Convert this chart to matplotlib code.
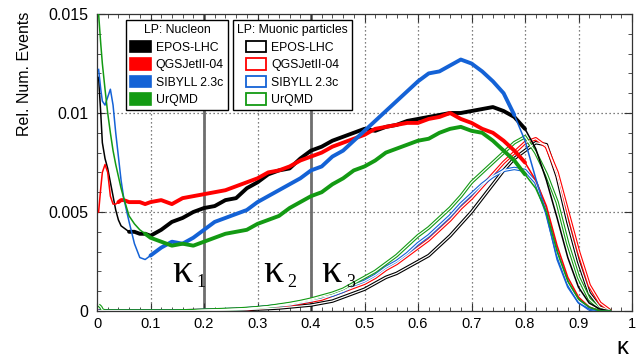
import numpy as np
import matplotlib
matplotlib.use("Agg")
import matplotlib.pyplot as plt
from matplotlib.patches import Patch
from matplotlib.ticker import MultipleLocator, FuncFormatter

plt.rcParams['font.family'] = ['Liberation Sans', 'DejaVu Sans']

# ---------------- data ----------------
kappa = [0.003, 0.007, 0.01, 0.015, 0.02, 0.025, 0.03, 0.035, 0.04, 0.045, 0.05,
         0.06, 0.07, 0.08, 0.09, 0.10,
         0.12, 0.14, 0.16, 0.18, 0.20, 0.22, 0.24, 0.26, 0.28, 0.30,
         0.32, 0.34, 0.36, 0.38, 0.40, 0.42, 0.44, 0.46, 0.48, 0.50,
         0.52, 0.54, 0.56, 0.58, 0.60, 0.62, 0.64, 0.66, 0.68, 0.70,
         0.72, 0.74, 0.76, 0.78, 0.80, 0.82, 0.84, 0.86, 0.88, 0.90,
         0.92, 0.94, 0.96]

models = ["EPOS-LHC", "QGSJetII-04", "SIBYLL 2.3c", "UrQMD"]

nucleon_epos = [0.0118, 0.0100, 0.0085, 0.0077, 0.0072, 0.0065, 0.0058, 0.0051, 0.0046, 0.0043, 0.0042,
                0.0040, 0.0040, 0.0039, 0.0039, 0.0038,
                0.0041, 0.0045, 0.0047, 0.0050, 0.0052, 0.0053, 0.0056, 0.0057, 0.0062, 0.0065,
                0.0069, 0.0071, 0.0072, 0.0077, 0.0081, 0.0083, 0.0086, 0.0088, 0.0090, 0.0092,
                0.0091, 0.0093, 0.0094, 0.0096, 0.0097, 0.0098, 0.0099, 0.0100, 0.0100, 0.0101,
                0.0102, 0.0103, 0.0101, 0.0098, 0.0092, 0.0082, 0.0066, 0.0047, 0.0027, 0.0012,
                0.0004, 0.0001, 0.0]
nucleon_qgsjet = [0.0050, 0.0062, 0.0070, 0.0074, 0.0070, 0.0058, 0.0054, 0.0054, 0.0055, 0.0056, 0.0056,
                  0.0055, 0.0055, 0.0055, 0.0054, 0.0055,
                  0.0056, 0.0054, 0.0057, 0.0058, 0.0059, 0.0060, 0.0061, 0.0063, 0.0065, 0.0067,
                  0.0070, 0.0071, 0.0073, 0.0076, 0.0078, 0.0080, 0.0083, 0.0085, 0.0087, 0.0089,
                  0.0092, 0.0093, 0.0094, 0.0095, 0.0095, 0.0097, 0.0098, 0.0100, 0.0097, 0.0095,
                  0.0092, 0.0090, 0.0086, 0.0081, 0.0075, 0.0066, 0.0053, 0.0033, 0.0017, 0.0007,
                  0.0002, 0.0, 0.0]
nucleon_sibyll = [0.0122, 0.0112, 0.0106, 0.0104, 0.0108, 0.0112, 0.0104, 0.0090, 0.0078, 0.0066, 0.0057,
                  0.0045, 0.0034, 0.0027, 0.0026, 0.0028,
                  0.0032, 0.0035, 0.0034, 0.0037, 0.0041, 0.0045, 0.0047, 0.0049, 0.0051, 0.0055,
                  0.0058, 0.0061, 0.0064, 0.0067, 0.0071, 0.0073, 0.0078, 0.0081, 0.0086, 0.0091,
                  0.0096, 0.0101, 0.0106, 0.0111, 0.0116, 0.0120, 0.0121, 0.0124, 0.0127, 0.0125,
                  0.0121, 0.0116, 0.0110, 0.0099, 0.0086, 0.0067, 0.0049, 0.0026, 0.0012, 0.0004,
                  0.0001, 0.0, 0.0]
nucleon_urqmd = [0.0150, 0.0135, 0.0125, 0.0112, 0.0100, 0.0090, 0.0081, 0.0074, 0.0068, 0.0062, 0.0057,
                 0.0048, 0.0044, 0.0041, 0.0039, 0.0037,
                 0.0035, 0.0033, 0.0034, 0.0033, 0.0035, 0.0037, 0.0039, 0.0040, 0.0041, 0.0044,
                 0.0046, 0.0048, 0.0052, 0.0055, 0.0058, 0.0060, 0.0064, 0.0067, 0.0071, 0.0073,
                 0.0076, 0.0080, 0.0082, 0.0084, 0.0086, 0.0087, 0.0090, 0.0092, 0.0093, 0.0091,
                 0.0090, 0.0086, 0.0081, 0.0076, 0.0069, 0.0062, 0.0050, 0.0030, 0.0015, 0.0006,
                 0.0002, 0.0, 0.0]

muon_epos = [0.0, 0.0, 0.0, 0.0, 0.0, 0.0, 0.0, 0.0, 0.0, 0.0, 0.0,
             0.0, 0.0, 0.0, 0.0, 0.0,
             0.0, 0.0, 0.0, 0.00001, 0.00002, 0.00003, 0.00004, 0.00005, 0.00007, 0.0001,
             0.00012, 0.00015, 0.0002, 0.00025, 0.0003, 0.0004, 0.0005, 0.0007, 0.0009, 0.0011,
             0.0014, 0.0017, 0.0019, 0.0022, 0.0025, 0.0028, 0.0033, 0.0038, 0.0044, 0.0050,
             0.0057, 0.0064, 0.0071, 0.0077, 0.0081, 0.0085, 0.0084, 0.0068, 0.0045, 0.0025,
             0.0009, 0.0002, 0.0]
muon_qgsjet = [0.0, 0.0, 0.0, 0.0, 0.0, 0.0, 0.0, 0.0, 0.0, 0.0, 0.0,
               0.0, 0.0, 0.0, 0.0, 0.0,
               0.0, 0.0, 0.00001, 0.00002, 0.00003, 0.00005, 0.00006, 0.00008, 0.0001, 0.00015,
               0.0002, 0.00025, 0.0003, 0.0004, 0.0005, 0.0006, 0.0008, 0.0010, 0.0012, 0.0014,
               0.0017, 0.0021, 0.0024, 0.0028, 0.0032, 0.0036, 0.0041, 0.0046, 0.0052, 0.0057,
               0.0063, 0.0069, 0.0075, 0.0080, 0.0085, 0.0087, 0.0083, 0.0070, 0.0050, 0.0030,
               0.0013, 0.0004, 0.0]
muon_sibyll = [0.0, 0.0, 0.0, 0.0, 0.0, 0.0, 0.0, 0.0, 0.0, 0.0, 0.0,
               0.0, 0.0, 0.0, 0.0, 0.0,
               0.0, 0.0, 0.00001, 0.00002, 0.00004, 0.00005, 0.00007, 0.00009, 0.00012, 0.00017,
               0.00022, 0.00028, 0.00035, 0.00045, 0.00055, 0.0007, 0.0008, 0.0010, 0.0013, 0.0015,
               0.0018, 0.0022, 0.0025, 0.0029, 0.0034, 0.0038, 0.0043, 0.0048, 0.0054, 0.0059,
               0.0064, 0.0068, 0.0071, 0.0072, 0.0071, 0.0065, 0.0050, 0.0029, 0.0014, 0.0005,
               0.0001, 0.0, 0.0]
muon_urqmd = [0.0003, 0.0002, 0.00005, 0.0, 0.0, 0.0, 0.0, 0.0, 0.0, 0.0, 0.0,
              0.0, 0.0, 0.0, 0.0, 0.0,
              0.0, 0.0, 0.00001, 0.00002, 0.00004, 0.00006, 0.00008, 0.0001, 0.00013, 0.00017,
              0.00022, 0.0003, 0.00038, 0.00048, 0.0006, 0.00075, 0.0009, 0.0011, 0.0014, 0.0017,
              0.0020, 0.0024, 0.0028, 0.0033, 0.0038, 0.0042, 0.0047, 0.0052, 0.0058, 0.0065,
              0.0070, 0.0075, 0.0080, 0.0085, 0.0088, 0.0080, 0.0069, 0.0055, 0.0034, 0.0017,
              0.0006, 0.0001, 0.0]

kappa_cuts = [0.2, 0.4]
kappa_labels = ["1", "2", "3"]
x_ticks = [0, 0.1, 0.2, 0.3, 0.4, 0.5, 0.6, 0.7, 0.8, 0.9, 1.0]
y_ticks = [0, 0.005, 0.01, 0.015]

# ---------------- style ----------------
colors = ["#000000", "#ff0000", "#1462d6", "#139a13"]
thick_ranges = [(0.06, 0.80), (0.04, 0.81), (0.10, 0.79), (0.09, 0.80)]

fig = plt.figure(figsize=(6.43, 3.58), dpi=100)
ax = fig.add_axes([97 / 643, 1 - 311 / 358, 535 / 643, 297 / 358])

k = np.array(kappa)

# grid
grid_style = dict(color="#555555", lw=0.9, ls=(0, (1, 2.2)), zorder=0)
for xv in x_ticks[1:-1]:
    ax.axvline(xv, **grid_style)
for yv in y_ticks[1:-1]:
    ax.axhline(yv, **grid_style)
for xc in kappa_cuts:
    ax.axvline(xc, color="#6e6e6e", lw=2.0, zorder=1)

# muonic (hollow lines)
for vals, c in zip([muon_epos, muon_qgsjet, muon_sibyll, muon_urqmd], colors):
    ax.plot(k, vals, color=c, lw=2.5, zorder=2, solid_capstyle='butt')
    ax.plot(k, vals, color="white", lw=0.9, zorder=2.1)

# nucleon (thin in tails, thick in bulk)
for vals, c, (a, b) in zip([nucleon_epos, nucleon_qgsjet, nucleon_sibyll, nucleon_urqmd],
                           colors, thick_ranges):
    v = np.array(vals)
    ax.plot(k, v, color=c, lw=1.1, zorder=3)
    vt = np.where((k >= a) & (k <= b), v, np.nan)
    ax.plot(k, vt, color=c, lw=2.8, zorder=3, solid_capstyle='round')

# kappa region labels
for xl, lab in zip([0.140, 0.310, 0.420], kappa_labels):
    ax.text(xl, 0.00146, "κ", fontsize=29, family="Liberation Serif", ha="left",
            va="baseline", zorder=5)
    ax.text(xl + 0.045, 0.00122, lab, fontsize=13, family="Liberation Serif", ha="left",
            va="baseline", zorder=5)

ax.set_xlim(0, 1)
ax.set_ylim(0, 0.015)
ax.set_xticks(x_ticks)
ax.set_yticks(y_ticks)
ax.xaxis.set_minor_locator(MultipleLocator(0.02))
ax.yaxis.set_minor_locator(MultipleLocator(0.001))
fmt = FuncFormatter(lambda v, p: ("%g" % v))
ax.xaxis.set_major_formatter(fmt)
ax.yaxis.set_major_formatter(fmt)
ax.tick_params(which="both", direction="in", top=True, right=True, color="#333333")
ax.tick_params(which="major", length=6, width=0.8)
ax.tick_params(which="minor", length=3, width=0.6)
ax.tick_params(axis="x", labelsize=10.5, pad=4)
ax.tick_params(axis="y", labelsize=11.5, pad=6)
for s in ax.spines.values():
    s.set_linewidth(0.9)
    s.set_color("#333333")

ax.set_ylabel("Rel. Num. Events", fontsize=11.5)
ax.yaxis.set_label_coords(-0.122, 0.80)
ax.text(0.981, -0.125, "κ", transform=ax.transAxes, fontsize=17, ha="center", va="center")

# legends
leg_kw = dict(fontsize=8.8, title_fontsize=8.8, frameon=True, fancybox=False,
              framealpha=1, edgecolor="black", handlelength=1.7, handleheight=1.05,
              handletextpad=0.4, labelspacing=0.38, borderpad=0.35, borderaxespad=0)
h1 = [Patch(facecolor=c, edgecolor=c, lw=1.2) for c in colors]
leg1 = ax.legend(h1, models, title="LP: Nucleon", loc="upper left",
                 bbox_to_anchor=(0.054, 0.98), **leg_kw)
leg1.get_frame().set_linewidth(1.0)
ax.add_artist(leg1)
h2 = [Patch(facecolor="white", edgecolor=c, lw=1.3) for c in colors]
leg2 = ax.legend(h2, models, title="LP: Muonic particles", loc="upper left",
                 bbox_to_anchor=(0.254, 0.98), **leg_kw)
leg2.get_frame().set_linewidth(1.0)
leg1.set_zorder(10)
leg2.set_zorder(10)

fig.savefig("out.png", dpi=100)
